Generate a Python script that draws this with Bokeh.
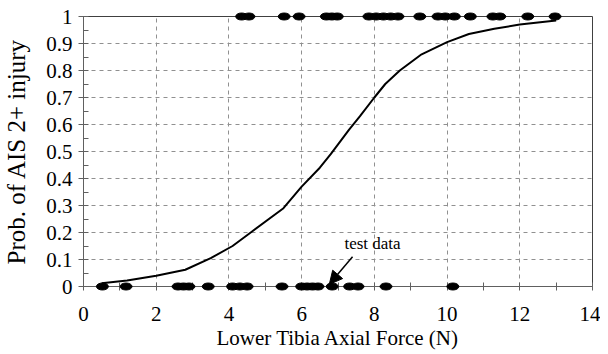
from bokeh.plotting import figure
from bokeh.models import FixedTicker, Arrow, NormalHead, Label, Range1d, Title
from bokeh.embed import file_html
from bokeh.resources import INLINE

# Data
injury_x = [4.35, 4.55, 5.52, 5.93, 6.68, 6.83, 6.98, 7.85, 8.05, 8.25, 8.45, 8.65,
            9.25, 9.75, 9.95, 10.2, 10.64, 11.26, 11.45, 12.22, 12.97]
injury_y = [1] * len(injury_x)
noinjury_x = [0.52, 1.17, 2.6, 2.75, 2.9, 3.43, 4.1, 4.3, 4.5, 5.46, 6.0, 6.15,
              6.3, 6.45, 6.84, 7.32, 7.55, 8.32, 10.16]
noinjury_y = [0] * len(noinjury_x)

curve_x = [0.5, 1.2, 2.0, 2.8, 3.5, 4.1, 4.6, 5.5, 6.0, 6.5, 6.8, 7.3, 7.6, 8.0,
           8.3, 8.7, 9.3, 10.0, 10.6, 11.3, 12.0, 13.0]
curve_y = [0.012, 0.022, 0.04, 0.062, 0.105, 0.15, 0.20, 0.29, 0.37, 0.44, 0.49,
           0.58, 0.63, 0.70, 0.75, 0.80, 0.86, 0.905, 0.935, 0.955, 0.97, 0.985]

x_ticks = [0, 2, 4, 6, 8, 10, 12, 14]
x_minor = [1, 3, 5, 7, 9, 11, 13]
y_ticks = [0, 0.1, 0.2, 0.3, 0.4, 0.5, 0.6, 0.7, 0.8, 0.9, 1]
y_labels = ["0", "0.1", "0.2", "0.3", "0.4", "0.5", "0.6", "0.7", "0.8", "0.9", "1"]
y_minor = [0.05, 0.15, 0.25, 0.35, 0.45, 0.55, 0.65, 0.75, 0.85, 0.95]

x_title = "Lower Tibia Axial Force (N)"
y_title = "Prob. of AIS 2+ injury"
annot_text = "test data"
annot_xy = (7.95, 0.159)
arrow_start = (7.40, 0.11)
arrow_end = (6.76, 0.008)

FONT = "'Liberation Serif', 'Times New Roman', serif"
AXC = "#606060"

p = figure(width=600, height=352, x_range=Range1d(0, 14), y_range=Range1d(0, 1),
           output_backend="svg", toolbar_location=None,
           min_border_left=83, min_border_right=8, min_border_top=16, min_border_bottom=66)
p.background_fill_color = "white"
p.border_fill_color = "white"
p.outline_line_color = "#404040"
p.outline_line_width = 1

p.xaxis.ticker = FixedTicker(ticks=x_ticks, minor_ticks=x_minor)
p.yaxis.ticker = FixedTicker(ticks=y_ticks, minor_ticks=y_minor)
p.yaxis.major_label_overrides = {t: l for t, l in zip(y_ticks, y_labels)}

for ax in (p.xaxis[0], p.yaxis[0]):
    ax.major_label_text_font = FONT
    ax.major_label_text_font_size = "21px"
    ax.major_label_text_color = "black"
    ax.axis_label_text_font = FONT
    ax.axis_label_text_font_size = "25px"
    ax.axis_label_text_font_style = "normal"
    ax.axis_label_text_color = "black"
    ax.axis_line_color = AXC
    ax.major_tick_line_color = AXC
    ax.minor_tick_line_color = AXC

p.yaxis.axis_label = y_title
p.xaxis.major_tick_in = 4
p.xaxis.major_tick_out = 4
p.xaxis.minor_tick_in = 4
p.xaxis.minor_tick_out = 4
p.xaxis.major_label_standoff = 16
p.yaxis.major_tick_in = 5
p.yaxis.major_tick_out = 5
p.yaxis.minor_tick_in = 5
p.yaxis.minor_tick_out = 0
p.yaxis.major_label_standoff = 6
p.yaxis.axis_label_standoff = 13

for g in (p.xgrid[0], p.ygrid[0]):
    g.grid_line_color = "#909090"
    g.grid_line_dash = "4 4"
    g.grid_line_width = 1
p.ygrid.ticker = FixedTicker(ticks=y_ticks[1:-1])
p.xgrid.ticker = FixedTicker(ticks=x_ticks[1:-1])

p.line(curve_x, curve_y, line_color="black", line_width=2)

r1 = p.ellipse(x=injury_x, y=injury_y, width=12, height=7, width_units="screen",
               height_units="screen", fill_color="black", line_color="black")
r2 = p.ellipse(x=noinjury_x, y=noinjury_y, width=12, height=7, width_units="screen",
               height_units="screen", fill_color="black", line_color="black")
r1.level = "overlay"
r2.level = "overlay"

p.add_layout(Arrow(x_start=arrow_start[0], y_start=arrow_start[1],
                   x_end=arrow_end[0], y_end=arrow_end[1], line_color="black", line_width=1.5,
                   end=NormalHead(size=13, fill_color="black", line_color="black")))
p.add_layout(Label(x=annot_xy[0], y=annot_xy[1], text=annot_text, text_font=FONT,
                   text_font_size="17px", text_align="center", text_baseline="middle",
                   text_color="black"))
p.add_layout(Title(text=x_title, align="center", text_font=FONT, text_font_size="21px",
                   text_font_style="normal", text_color="black", standoff=0), "below")

open("out.html", "w").write(file_html(p, INLINE))
